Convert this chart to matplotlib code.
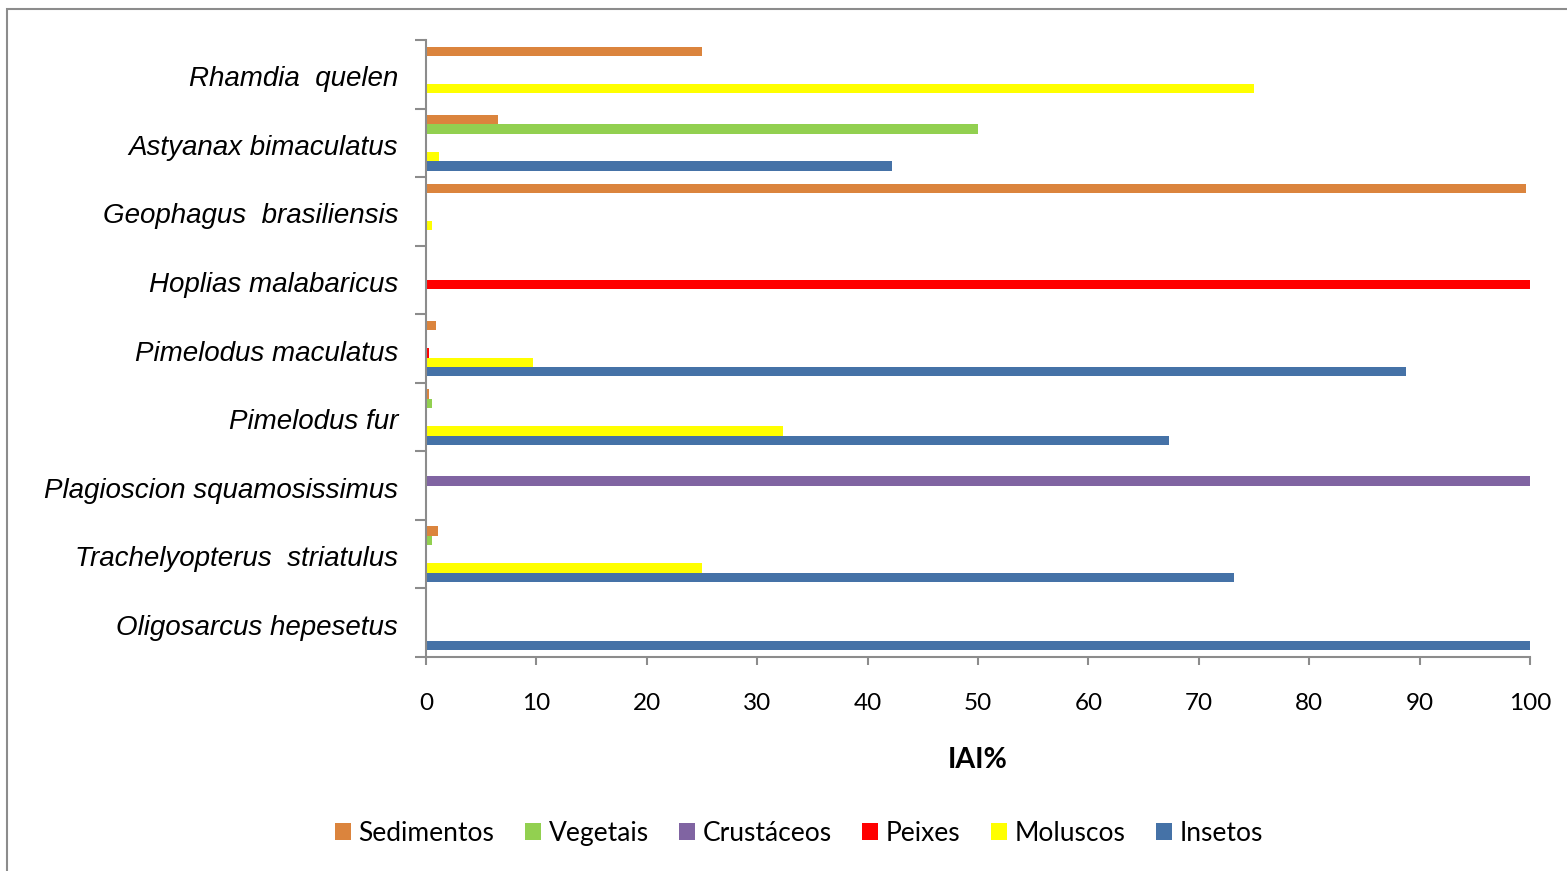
import matplotlib.pyplot as plt
from matplotlib.patches import Rectangle

species = [
    "Rhamdia  quelen",
    "Astyanax bimaculatus",
    "Geophagus  brasiliensis",
    "Hoplias malabaricus",
    "Pimelodus maculatus",
    "Pimelodus fur",
    "Plagioscion squamosissimus",
    "Trachelyopterus  striatulus",
    "Oligosarcus hepesetus",
]

sedimentos = [25.0, 6.5, 99.6, 0, 0.9, 0.3, 0, 1.1, 0]
vegetais   = [0, 50.0, 0, 0, 0, 0.5, 0, 0.5, 0]
crustaceos = [0, 0, 0, 0, 0, 0, 100.0, 0, 0]
peixes     = [0, 0, 0, 100.0, 0.3, 0, 0, 0, 0]
moluscos   = [75.0, 1.2, 0.5, 0, 9.7, 32.3, 0, 25.0, 0]
insetos    = [0, 42.2, 0, 0, 88.8, 67.3, 0, 73.2, 100.0]

series_names = ["Insetos", "Moluscos", "Peixes", "Crustáceos", "Vegetais", "Sedimentos"]
series_vals = [insetos, moluscos, peixes, crustaceos, vegetais, sedimentos]
colors = ["#4572A7", "#FFFF00", "#FF0000", "#8064A2", "#92D050", "#DB843D"]

plt.rcParams['font.family'] = ['Lato', 'DejaVu Sans']

W, H = 1567, 871
fig = plt.figure(figsize=(W / 100, H / 100), dpi=100)
fig.patches.append(Rectangle((7 / W, -0.05), 1.1, 1 - 9 / H + 0.05,
                             transform=fig.transFigure, fill=False,
                             edgecolor="#8c8c8c", linewidth=1.5))

ax = fig.add_axes([426 / W, 1 - 657 / H, (1530 - 426) / W, (657 - 40) / H])

n = len(species)
h = 0.135
handles = {}
for j, (name, vals, col) in enumerate(zip(series_names, series_vals, colors)):
    ys = [(n - 1 - i) + (j - 2.5) * h for i in range(n)]
    handles[name] = ax.barh(ys, vals, height=h, color=col, label=name)

ax.set_xlim(0, 100)
ax.set_ylim(-0.5, n - 0.5)
ax.set_xticks(range(0, 101, 10))
ax.tick_params(axis='x', labelsize=17.5, length=6, width=1.5, color="#8c8c8c", pad=20)

ax.set_yticks([k - 0.5 for k in range(n + 1)], minor=False)
ax.set_yticklabels([])
ax.tick_params(axis='y', length=8, width=1.5, color="#8c8c8c")
ax.set_yticks([k - 0.03 for k in range(n)], minor=True)
ax.set_yticklabels(species[::-1], minor=True, fontsize=20, style='italic',
                   family=['Liberation Sans', 'DejaVu Sans'])
ax.tick_params(axis='y', which='minor', length=0, pad=20)

for s in ['top', 'right']:
    ax.spines[s].set_visible(False)
for s in ['left', 'bottom']:
    ax.spines[s].set_color("#8c8c8c")
    ax.spines[s].set_linewidth(1.5)

ax.set_xlabel("IAI%", fontsize=20.5, fontweight='bold', labelpad=24)

order = ["Sedimentos", "Vegetais", "Crustáceos", "Peixes", "Moluscos", "Insetos"]
fig.legend([handles[k] for k in order], order, loc='center',
           bbox_to_anchor=(799 / W, 1 - 833 / H), ncol=6, frameon=False,
           fontsize=19, handlelength=0.6, handleheight=0.6,
           handletextpad=0.3, columnspacing=1.15)

fig.savefig("out.png", dpi=100)
